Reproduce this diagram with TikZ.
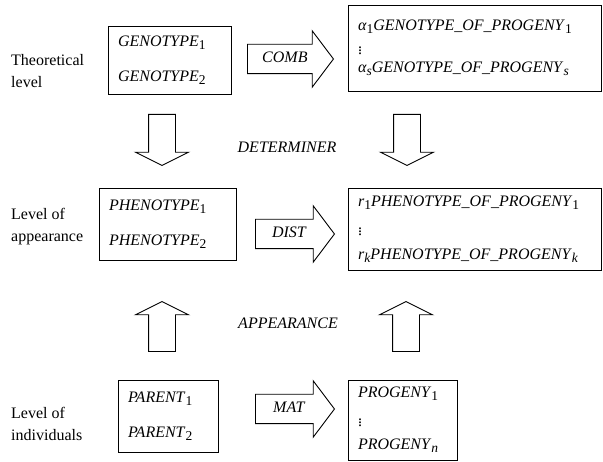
\documentclass[tikz,border=0pt]{standalone}
\usepackage{fontspec}
\setmainfont{Liberation Serif}
\usepackage{tikz}
\usetikzlibrary{shapes.arrows}

\newcommand{\lowidx}[1]{\raisebox{-3pt}{\fontsize{13.5}{13.5}\selectfont #1}}
\newcommand{\ivar}[1]{\textit{#1}}
\newcommand{\dotcol}{\leavevmode\raisebox{-3pt}{\vbox{\baselineskip3.2pt\lineskiplimit0pt\hbox{.}\hbox{.}\hbox{.}}}}

\tikzset{
  lvl/.style={anchor=west,align=left,inner sep=0pt,font=\fontsize{16}{22}\selectfont},
  box/.style={draw,line width=0.9pt,align=left,inner xsep=10pt,inner ysep=0pt,font=\fontsize{16}{20}\selectfont},
  hblock/.style={single arrow,draw,line width=0.9pt,anchor=tail,single arrow tip angle=106,
    single arrow head extend=13.5pt,text height=11pt,text depth=3.5pt,inner ysep=7pt,inner xsep=4pt,
    font=\fontsize{16}{20}\selectfont},
  vblock/.style={single arrow,draw,line width=0.9pt,anchor=tail,single arrow tip angle=127,
    single arrow head extend=13pt,text height=0pt,text depth=0pt,inner xsep=0pt,inner ysep=13pt},
  relname/.style={inner sep=0pt,font=\fontsize{16}{20}\selectfont\itshape}
}

\begin{document}
\begin{tikzpicture}[x=1pt,y=1pt]
\useasboundingbox (0,0) rectangle (603,461);
% level names
\node[lvl] (theo) at (11,390) {Theoretical\\level};
\node[lvl] (appear) at (11,234) {Level of\\appearance};
\node[lvl] (indiv) at (11,37.5) {Level of\\individuals};
% theoretical level
\node[box,text width=103pt,minimum height=68pt] (geno) at (169.5,401)
  {\ivar{GENOTYPE}\lowidx{1}\\[15pt]\ivar{GENOTYPE}\lowidx{2}};
\node[box,text width=233.5pt,minimum height=86pt] (gprog) at (474.75,413)
  {\ivar{α}\lowidx{1}\ivar{GENOTYPE\_OF\_PROGENY}\lowidx{1}\\[1pt]\dotcol\\[1pt]\ivar{α}\lowidx{\ivar{s}}\ivar{GENOTYPE\_OF\_PROGENY}\lowidx{\ivar{s}}};
\node[hblock,minimum height=86pt] (comb) at (247,402) {\ivar{COMB}};
% level of appearance
\node[box,text width=117pt,minimum height=72pt] (pheno) at (167.5,237)
  {\ivar{PHENOTYPE}\lowidx{1}\\[15pt]\ivar{PHENOTYPE}\lowidx{2}};
\node[box,text width=233.5pt,minimum height=82pt] (pprog) at (474.75,232)
  {\ivar{r}\lowidx{1}\ivar{PHENOTYPE\_OF\_PROGENY}\lowidx{1}\\[6.5pt]\dotcol\\[6.5pt]\ivar{r}\lowidx{\ivar{k}}\ivar{PHENOTYPE\_OF\_PROGENY}\lowidx{\ivar{k}}};
\node[hblock,minimum height=79pt] (dist) at (255,227) {\ivar{DIST}};
% level of individuals
\node[box,text width=80pt,minimum height=72pt] (parent) at (168,45)
  {\ivar{PARENT}\lowidx{1}\\[15pt]\ivar{PARENT}\lowidx{2}};
\node[box,text width=89pt,minimum height=80pt] (prog) at (402.5,41)
  {\ivar{PROGENY}\lowidx{1}\\[6pt]\dotcol\\[6pt]\ivar{PROGENY}\lowidx{\ivar{n}}};
\node[hblock,minimum height=79pt] (mat) at (255,52) {\ivar{MAT}};
% between the levels
\node[vblock,rotate=-90,minimum height=51pt] (detL) at (162,347) {};
\node[vblock,rotate=-90,minimum height=51pt] (detR) at (407,347) {};
\node[relname] (determiner) at (287,314) {DETERMINER};
\node[vblock,rotate=90,minimum height=50pt] (appL) at (162,109) {};
\node[vblock,rotate=90,minimum height=50pt] (appR) at (406,109) {};
\node[relname] (appearance) at (288,138) {APPEARANCE};
\end{tikzpicture}
\end{document}
